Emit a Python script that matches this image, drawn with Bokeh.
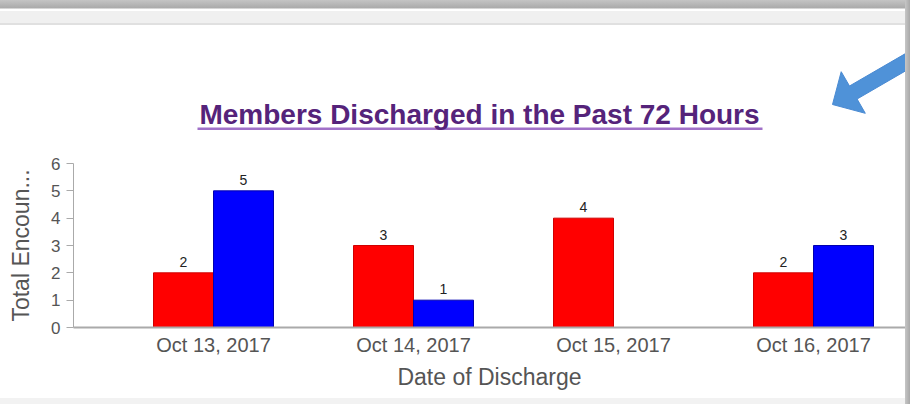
from bokeh.plotting import figure
from bokeh.layouts import column, row
from bokeh.models import ColumnDataSource, Range1d, FixedTicker, Label, Div
from bokeh.transform import dodge
from bokeh.embed import file_html
from bokeh.resources import INLINE
from bokeh.core.properties import value

# ---- data ----
dates = ["Oct 13, 2017", "Oct 14, 2017", "Oct 15, 2017", "Oct 16, 2017"]
red_counts = [2, 3, 4, 2]
blue_counts = [5, 1, 0, 3]
y_ticks = [0, 1, 2, 3, 4, 5, 6]
title_text = "Members Discharged in the Past 72 Hours"
x_title = "Date of Discharge"
y_title = "Total Encoun..."

idx = list(range(len(dates)))
src = ColumnDataSource(dict(i=idx, red=red_counts, blue=blue_counts))

red_lab = ColumnDataSource(dict(
    i=[i for i, v in zip(idx, red_counts) if v != 0],
    v=[v for v in red_counts if v != 0],
    t=[str(v) for v in red_counts if v != 0]))
blue_lab = ColumnDataSource(dict(
    i=[i for i, v in zip(idx, blue_counts) if v != 0],
    v=[v for v in blue_counts if v != 0],
    t=[str(v) for v in blue_counts if v != 0]))

FONT = "Liberation Sans"
GRAY = "#555555"
W = 905          # width of the content column
LEFT = 73        # frame left edge shared by the stacked figures

# ---------------- screenshot window chrome (plain HTML strips) -------
chrome_top = Div(text="", width=W, height=25, margin=0, styles={
    "background": "linear-gradient(to bottom, #c4c4c4 0px, #aaaaaa 8px, "
                  "#ffffff 9px, #ffffff 11px, #f0f0f0 11px, #f0f0f0 23px, "
                  "#e0e0e0 23px, #e0e0e0 25px)"})
chrome_bottom = Div(text="", width=W, height=6, margin=0,
                    styles={"background": "#f2f2f2"})
chrome_right = Div(text="", width=5, height=404, margin=0,
                   styles={"background": "linear-gradient(to right, #c6c6c6, #a8a8a8)"})

# ---------------- header: title, underline, pointer arrow -------------
top = figure(width=W, height=115, x_range=Range1d(LEFT, W),
             y_range=Range1d(140, 25), x_axis_type=None, y_axis_type=None,
             output_backend="svg", toolbar_location=None,
             min_border_left=LEFT, min_border_right=0,
             min_border_top=0, min_border_bottom=0)
top.outline_line_color = None
top.grid.grid_line_color = None
top.background_fill_color = "white"
top.border_fill_color = "white"

top.add_layout(Label(x=479, y=114, text=title_text, text_align="center",
                     text_baseline="middle", text_font=FONT,
                     text_font_size="28px", text_font_style="bold",
                     text_color="#55237a"))
top.quad(left=197, right=762, top=127, bottom=129.5,
         fill_color="#a070c8", line_color=None)

# blue pointer arrow
top.patch(x=[832, 864.8, 856.6, 921.4, 913.9, 849.0, 840.7],
          y=[104, 112.8, 98.5, 60.9, 47.9, 85.5, 71.2],
          fill_color="#4f92d8", line_color="#4a8ad2", line_width=1)

# ---------------- chart ----------------
p = figure(width=W, height=258,
           x_range=Range1d(-0.7, 3.46), y_range=Range1d(0, 6),
           output_backend="svg", toolbar_location=None,
           min_border_left=LEFT, min_border_right=0,
           min_border_top=23, min_border_bottom=71)
p.outline_line_color = None
p.grid.grid_line_color = None
p.background_fill_color = "white"
p.border_fill_color = "white"

p.vbar(x=dodge("i", -0.15), top="red", bottom=0, width=0.3, source=src,
       fill_color="#ff0000", line_color="#d00000", line_width=1)
p.vbar(x=dodge("i", 0.15), top="blue", bottom=0, width=0.3, source=src,
       fill_color="#0000ff", line_color="#0000b0", line_width=1)

for s, d in ((red_lab, -0.15), (blue_lab, 0.15)):
    p.text(x=dodge("i", d), y="v", text="t", source=s, y_offset=-6,
           text_align="center", text_baseline="bottom",
           text_font=value(FONT), text_font_size="14px", text_color="#222222")

p.xaxis.ticker = FixedTicker(ticks=idx)
p.xaxis.major_label_overrides = {i: d for i, d in zip(idx, dates)}
p.xaxis.major_tick_line_color = None
p.xaxis.major_tick_out = 0
p.xaxis.major_tick_in = 0
p.xaxis.minor_tick_line_color = None
p.xaxis.axis_line_color = "#aaaaaa"
p.xaxis.axis_line_width = 2
p.xaxis.major_label_text_font = FONT
p.xaxis.major_label_text_font_size = "20px"
p.xaxis.major_label_text_color = GRAY
p.xaxis.major_label_standoff = 6
p.xaxis.axis_label = x_title
p.xaxis.axis_label_text_font = FONT
p.xaxis.axis_label_text_font_style = "normal"
p.xaxis.axis_label_text_font_size = "23px"
p.xaxis.axis_label_text_color = GRAY
p.xaxis.axis_label_standoff = 5

p.yaxis.ticker = FixedTicker(ticks=y_ticks)
p.yaxis.minor_tick_line_color = None
p.yaxis.major_tick_out = 7
p.yaxis.major_tick_in = 0
p.yaxis.major_tick_line_color = "#aaaaaa"
p.yaxis.axis_line_color = "#aaaaaa"
p.yaxis.major_label_text_font = FONT
p.yaxis.major_label_text_font_size = "17px"
p.yaxis.major_label_text_color = GRAY
p.yaxis.major_label_standoff = 6
p.yaxis.axis_label = y_title
p.yaxis.axis_label_text_font = FONT
p.yaxis.axis_label_text_font_style = "normal"
p.yaxis.axis_label_text_font_size = "23px"
p.yaxis.axis_label_text_color = GRAY
p.yaxis.axis_label_standoff = 14

content = column(chrome_top, top, p, chrome_bottom, spacing=0)
layout = row(content, chrome_right, spacing=0)
open("out.html", "w").write(file_html(layout, INLINE))
